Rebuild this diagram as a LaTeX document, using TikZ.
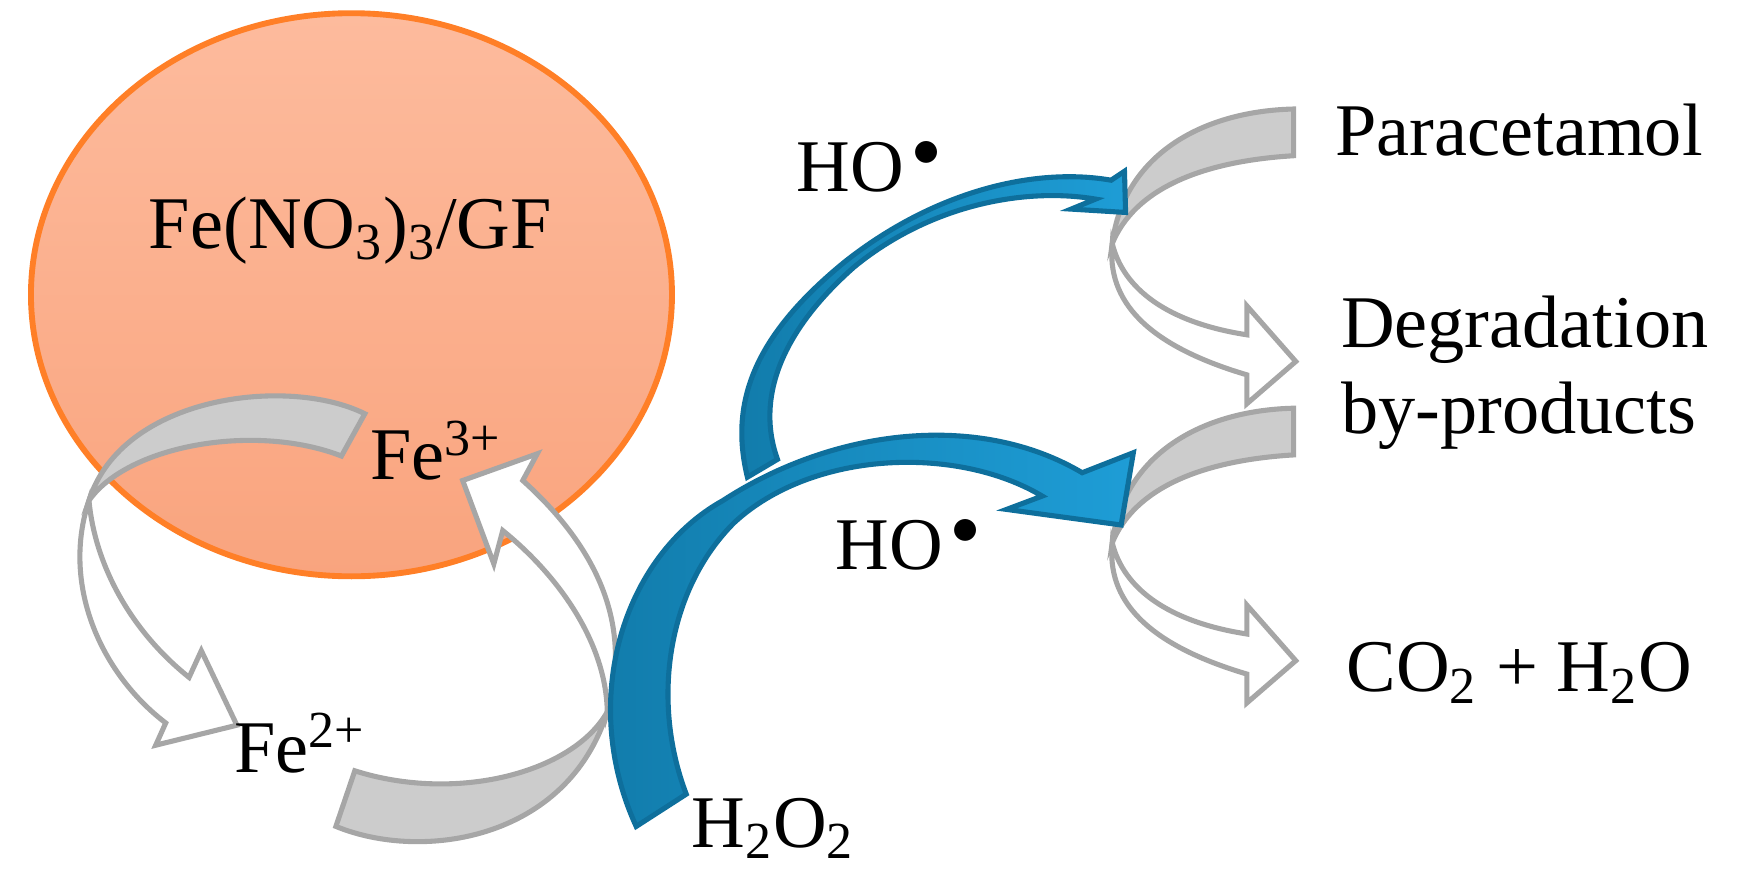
\documentclass[tikz,border=0pt]{standalone}
\usepackage{fontspec}
\setmainfont{Liberation Serif}
\usetikzlibrary{shapes.geometric}

\definecolor{grayfill}{HTML}{CCCCCC}
\definecolor{grayline}{HTML}{A6A6A6}
\definecolor{bluedark}{HTML}{117BAA}
\definecolor{bluelight}{HTML}{1E9DD6}
\definecolor{blueline}{HTML}{0E6F9C}
\definecolor{ballline}{HTML}{FF7F27}
\definecolor{balltop}{HTML}{FDBB9D}
\definecolor{ballbot}{HTML}{F9A47E}

\begin{document}
\begin{tikzpicture}
[x=0.01cm, y=-0.01cm,
ball/.style ={ellipse, draw=ballline, line width=1.5pt,
top color=balltop, bottom color=ballbot,
minimum width=5.76cm, minimum height=5.06cm, inner sep=0pt},
graybit/.style ={draw=grayline, line width=1.3pt, fill=grayfill, line join=miter},
whitebit/.style ={draw=grayline, line width=1.3pt, fill=white, line join=miter},
bluebit/.style ={draw=blueline, line width=1.3pt, left color=bluedark,
right color=bluelight, line join=miter},
label/.style ={font=\fontsize{19}{22}\selectfont, inner sep=0pt}]
\useasboundingbox (0,0) rectangle (1568,796);
% catalyst particle
\node [ball] (grain) at (316,265) {};
\node [label] (fenit) at (315,207) {Fe(NO\textsubscript{3})\textsubscript{3}/GF};
% left loop Fe3+ -> Fe2+
\path [graybit] (328,372) .. controls (260,338) and (110,355) .. (80,450)
  .. controls (115,400) and (230,380) .. (307,410) -- cycle;
\path [whitebit] (80,450) .. controls (55,525) and (90,605) .. (149,650)
  -- (140,670) -- (213,652) -- (181,585) -- (170,609)
  .. controls (115,565) and (85,505) .. (80,450) -- cycle;
% bottom loop Fe2+ -> Fe3+
\path [whitebit] (546,640) .. controls (568,565) and (540,495) .. (470,432)
  -- (483,408) -- (416,432) -- (444,507) -- (452,477)
  .. controls (505,520) and (545,580) .. (546,640) -- cycle;
\path [graybit] (546,640) .. controls (515,695) and (410,722) .. (319,693)
  -- (302,743) .. controls (380,775) and (510,755) .. (546,640) -- cycle;
% right loops towards the products
\foreach \dy in {0,269}
{
\begin{scope}[yshift=-\dy*0.01cm]
\path [whitebit] (1000,219) .. controls (995,270) and (1030,310) .. (1121,337)
  -- (1121,363) -- (1165,325) -- (1121,275) -- (1121,301)
  .. controls (1050,290) and (1010,260) .. (1000,219) -- cycle;
\path [graybit] (1163,98) .. controls (1080,100) and (1010,140) .. (1000,219)
  .. controls (1020,170) and (1080,145) .. (1163,140) -- cycle;
\end{scope}
}
% hydroxyl radical arrows
\path [bluebit] (572,743) .. controls (520,630) and (560,500) .. (650,450)
  .. controls (750,385) and (880,370) .. (973,425)
  -- (1019,407) -- (1008,472) -- (905,458) -- (937,446)
  .. controls (860,400) and (730,405) .. (660,470)
  .. controls (600,530) and (585,630) .. (617,714) -- cycle;
\path [bluebit] (672,429) .. controls (655,360) and (680,300) .. (760,235)
  .. controls (840,172) and (930,150) .. (999,162)
  -- (1011,154) -- (1012,191) -- (963,188) -- (985,179)
  .. controls (920,168) and (835,185) .. (768,240)
  .. controls (700,300) and (680,360) .. (699,413) -- cycle;
% labels
\node [label] (fe3) at (392,405) {Fe\textsuperscript{3+}};
\node [label] (fe2) at (270,668) {Fe\textsuperscript{2+}};
\node [label] (hyd) at (695,745) {H\textsubscript{2}O\textsubscript{2}};
\node [label] (houp) at (782,150) {HO\textsuperscript{\,$\bullet$}};
\node [label] (holow) at (817,490) {HO\textsuperscript{\,$\bullet$}};
\node [label, anchor=west] (para) at (1200,117) {Paracetamol};
\node [label, anchor=west, align=left] (byprod) at (1205,335) {Degradation\\by-products};
\node [label, anchor=west] (final) at (1210,605) {CO\textsubscript{2} + H\textsubscript{2}O};
\end{tikzpicture}
\end{document}
